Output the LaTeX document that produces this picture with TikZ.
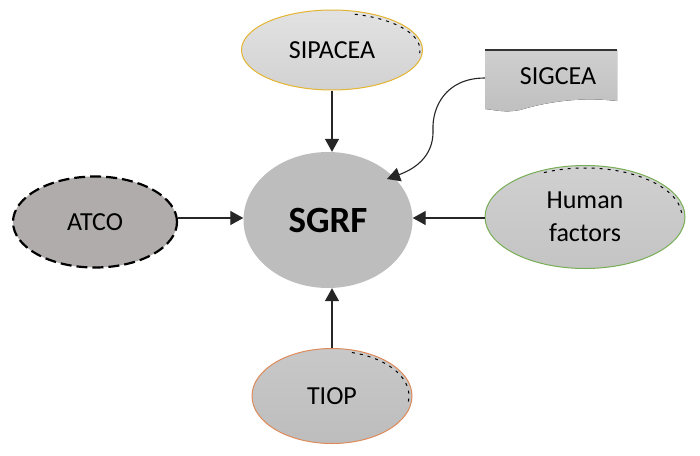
\documentclass[tikz,border=0pt]{standalone}
\usepackage{fontspec}
\setmainfont{Carlito}
\usetikzlibrary{arrows.meta,shapes.geometric}
\definecolor{goldline}{HTML}{E3B532}
\definecolor{greenline}{HTML}{78AE55}
\definecolor{orangeline}{HTML}{DE8A5A}
\definecolor{atcofill}{HTML}{B0ACAC}
\definecolor{sgrffill}{HTML}{BDBDBD}
\definecolor{siptop}{HTML}{E2E2E2}
\definecolor{sipbot}{HTML}{D2D2D2}
\definecolor{hftop}{HTML}{D0D0D0}
\definecolor{hfbot}{HTML}{C4C4C4}
\definecolor{tioptop}{HTML}{C8C8C8}
\definecolor{tiopbot}{HTML}{BDBDBD}
\definecolor{sigtop}{HTML}{CFCFCF}
\definecolor{sigbot}{HTML}{BFBFBF}
\tikzset{
  bubble/.style={ellipse, inner sep=0pt, font=\fontsize{26}{33}\selectfont, align=center},
  conn/.style={draw=black!85, line width=1.3pt, -{Triangle[length=13pt,width=14pt]}},
  artifact/.style={draw=black, line width=1pt, dash pattern=on 3pt off 5pt}
}
\begin{document}
\begin{tikzpicture}[x=1pt,y=-1pt]
\useasboundingbox (0,0) rectangle (700,455);
\fill[white] (0,0) rectangle (700,455);
% nodes
\node[bubble, minimum width=181pt, minimum height=80pt, draw=goldline, line width=1pt,
      top color=siptop, bottom color=sipbot] (sip) at (332,50) {SIPACEA};
\node[bubble, minimum width=164pt, minimum height=91pt, fill=atcofill, draw=black,
      line width=2.2pt, dash pattern=on 11pt off 5pt] (atco) at (95,222) {ATCO};
\node[bubble, minimum width=169pt, minimum height=136pt, fill=sgrffill,
      font=\fontsize{37}{40}\selectfont\bfseries] (sgrf) at (328,220) {SGRF};
\node[bubble, minimum width=200pt, minimum height=103pt, draw=greenline, line width=1pt,
      top color=hftop, bottom color=hfbot] (hf) at (585,217) {Human\\factors};
\node[bubble, minimum width=160pt, minimum height=95pt, draw=orangeline, line width=1pt,
      top color=tioptop, bottom color=tiopbot] (tiop) at (332,396) {TIOP};
% SIGCEA document shape
\fill[top color=sigtop, bottom color=sigbot]
  (485,50) -- (617,50) -- (617,101) .. controls (575,96) and (540,104) .. (520,110)
  .. controls (505,113) and (495,110) .. (485,109) -- cycle;
\draw[black!80, line width=1.2pt] (485,50) -- (617,50);
\node[font=\fontsize{26}{30}\selectfont, inner sep=0pt] (sig) at (558,76) {SIGCEA};
\coordinate (sigl) at (485,78);
% artifacts (partial dashed outlines)
\draw[artifact] ([shift={(332,50)}] -75:88 and 37) arc[start angle=-75, end angle=5, x radius=88, y radius=37];
\draw[artifact] ([shift={(585,217)}] -115:97 and 49) arc[start angle=-115, end angle=-5, x radius=97, y radius=49];
\draw[artifact] ([shift={(332,396)}] -75:77 and 45) arc[start angle=-75, end angle=8, x radius=77, y radius=45];
% connectors
\draw[conn] (sip) -- (sgrf.north -| sip.south);
\draw[conn] (atco.east |- 0,218) -- (sgrf.west |- 0,218);
\draw[conn] (hf.west |- 0,218) -- (sgrf.east |- 0,218);
\draw[conn] (tiop.north) -- (sgrf.south -| tiop.north);
\draw[conn, line width=1.1pt] (sigl) .. controls (445,78) and (432,108) .. (433,130)
  .. controls (434,158) and (412,170) .. (387,179);
\end{tikzpicture}
\end{document}
